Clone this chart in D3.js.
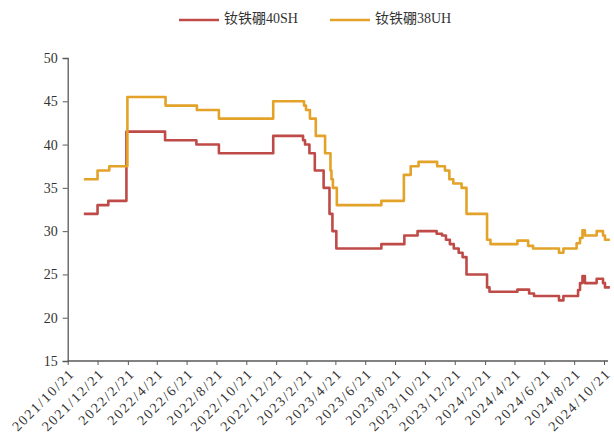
<!DOCTYPE html>
<html>
<head>
<meta charset="utf-8">
<script src="https://cdn.jsdelivr.net/npm/d3@7"></script>
<style>
  html, body { margin: 0; padding: 0; background: #fff; }
  svg { display: block; }
  text { font-family: "Liberation Serif", "Noto Sans CJK SC", serif; }
</style>
</head>
<body>
<svg id="chart" width="614" height="438"></svg>
<script>
// ---- data ----
const seriesNames = ["钕铁硼40SH", "钕铁硼38UH"];
const seriesColors = ["#BE4B48", "#E3A329"];

const dates40SH = ["2021-11-23","2021-12-21","2022-01-12","2022-02-18","2022-05-08","2022-07-11","2022-08-26","2022-12-15",
  "2023-02-14","2023-02-18","2023-02-27","2023-03-10","2023-03-28","2023-04-09","2023-04-15","2023-04-23",
  "2023-07-24","2023-09-09","2023-10-06","2023-11-14","2023-11-25","2023-12-03","2023-12-11","2023-12-19","2023-12-29",
  "2024-01-06","2024-01-14","2024-02-25","2024-03-01","2024-04-27","2024-05-21","2024-05-31","2024-07-21","2024-07-30",
  "2024-08-23","2024-08-29","2024-09-02","2024-09-07","2024-09-12","2024-10-06","2024-10-19","2024-10-23","2024-11-02"];
const values40SH = [32,33,33.5,41.5,40.5,40,39,41,
  40.5,40,39,37,35,32,30,28,
  28.5,29.5,30,29.7,29.5,29,28.5,28,27.5,
  27,25,23.5,23,23.25,22.8,22.5,22,22.5,
  22.5,23.2,24,24.8,24,24.5,24,23.5,23.5];

const dates38UH = ["2021-11-23","2021-12-21","2022-01-14","2022-02-20","2022-05-09","2022-07-12","2022-08-26","2022-12-15",
  "2023-02-16","2023-02-20","2023-02-28","2023-03-12","2023-03-31","2023-04-11","2023-04-13","2023-04-16","2023-04-24",
  "2023-07-24","2023-09-08","2023-09-22","2023-10-08","2023-11-15","2023-12-01","2023-12-10","2023-12-18","2024-01-04",
  "2024-01-14","2024-02-25","2024-03-03","2024-04-27","2024-05-19","2024-05-29","2024-07-21","2024-07-30",
  "2024-08-23","2024-08-26","2024-09-02","2024-09-07","2024-09-12","2024-10-06","2024-10-19","2024-10-23","2024-11-02"];
const values38UH = [36,37,37.5,45.5,44.5,44,43,45,
  44.5,44,43,41,39,37,36,35,33,
  33.5,36.5,37.5,38,37.5,37,36,35.5,35,
  32,29,28.5,28.9,28.3,28,27.5,28,
  28,28.6,29.2,30.1,29.5,30,29.5,29,29];

const xTickLabels = ["2021/10/21","2021/12/21","2022/2/21","2022/4/21","2022/6/21","2022/8/21","2022/10/21","2022/12/21",
  "2023/2/21","2023/4/21","2023/6/21","2023/8/21","2023/10/21","2023/12/21","2024/2/21","2024/4/21","2024/6/21",
  "2024/8/21","2024/10/21"];
const yTicks = [15,20,25,30,35,40,45,50];

// ---- chart ----
const parse = d3.timeParse("%Y-%m-%d");
const parseTick = d3.timeParse("%Y/%m/%d");
const tickDates = xTickLabels.map(parseTick);

const svg = d3.select("#chart");
const axisColor = "#595959";

const x = d3.scaleTime()
  .domain([tickDates[0], tickDates[tickDates.length - 1]])
  .range([67.7, 604]);
const y = d3.scaleLinear().domain([15, 50]).range([361, 58]);

// y axis
const yAxis = svg.append("g")
  .attr("transform", "translate(67.7,0)")
  .call(d3.axisLeft(y).tickValues(yTicks).tickSize(5).tickPadding(5).tickFormat(d3.format("d")));
yAxis.select(".domain").attr("stroke", axisColor).attr("stroke-width", 1.3);
yAxis.selectAll(".tick line").attr("stroke", axisColor);
yAxis.selectAll(".tick text").attr("fill", "#333").attr("font-size", 14)
  .style("font-family", "'Liberation Serif', serif");

// x axis
const xAxis = svg.append("g")
  .attr("transform", "translate(0,361)")
  .call(d3.axisBottom(x).tickValues(tickDates).tickSize(4)
    .tickFormat((d, i) => xTickLabels[i]));
xAxis.select(".domain").remove();
xAxis.append("line").attr("x1", 67.7).attr("x2", 608).attr("y1", 0).attr("y2", 0)
  .attr("stroke", axisColor).attr("stroke-width", 1.3);
xAxis.selectAll(".tick line").attr("stroke", axisColor);
xAxis.selectAll(".tick text")
  .attr("fill", "#333").attr("font-size", 14)
  .style("font-family", "'Liberation Serif', serif")
  .style("letter-spacing", "1.8px")
  .attr("text-anchor", "end")
  .attr("dy", null).attr("y", null)
  .attr("transform", "translate(5,11) rotate(-45)")
  .attr("dominant-baseline", "middle");

// lines
const line = d3.line()
  .x(d => x(d[0]))
  .y(d => y(d[1]))
  .curve(d3.curveStepAfter);

const data = [
  dates40SH.map((d, i) => [parse(d), values40SH[i]]),
  dates38UH.map((d, i) => [parse(d), values38UH[i]])
];

svg.append("g").selectAll("path")
  .data(data)
  .join("path")
  .attr("d", line)
  .attr("fill", "none")
  .attr("stroke", (d, i) => seriesColors[i])
  .attr("stroke-width", 2.6)
  .attr("stroke-linejoin", "round");

// legend
const legendItems = [{x: 179}, {x: 330}];
const leg = svg.append("g");
legendItems.forEach((it, i) => {
  leg.append("line").attr("x1", it.x).attr("x2", it.x + 40).attr("y1", 20).attr("y2", 20)
    .attr("stroke", seriesColors[i]).attr("stroke-width", 2.6);
  leg.append("text").attr("x", it.x + 45).attr("y", 20).attr("dominant-baseline", "middle")
    .attr("font-size", 14).attr("fill", "#333")
    .style("font-family", "'Liberation Serif', 'Noto Sans CJK SC', serif")
    .text(seriesNames[i]);
});
</script>
</body>
</html>
